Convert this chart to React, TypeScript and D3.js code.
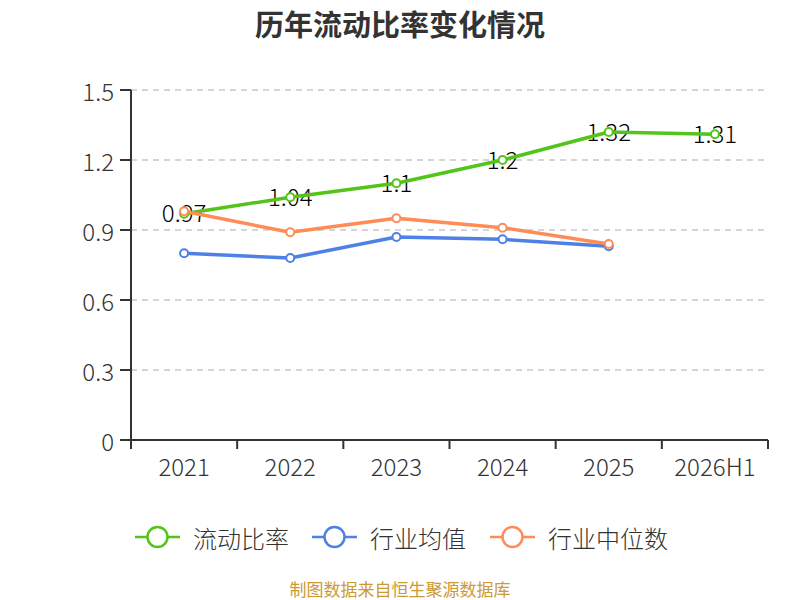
import { line, scaleBand, scaleLinear } from "d3";

const categories = ["2021", "2022", "2023", "2024", "2025", "2026H1"];
const currentRatio = [0.97, 1.04, 1.1, 1.2, 1.32, 1.31];
const industryMean = [0.8, 0.78, 0.87, 0.86, 0.83];
const industryMedian = [0.98, 0.89, 0.95, 0.91, 0.84];
const yTicks = [0, 0.3, 0.6, 0.9, 1.2, 1.5];
const seriesNames = ["流动比率", "行业均值", "行业中位数"];
const seriesColors = ["#52c41a", "#4e80e6", "#ff8c57"];

const font = "'Noto Sans CJK SC', 'Noto Sans', sans-serif";

export default function App() {
  const width = 800;
  const height = 600;
  const left = 131;
  const right = 768;
  const top = 90;
  const bottom = 440;

  const x = scaleBand<string>().domain(categories).range([left, right]);
  const y = scaleLinear().domain([0, 1.5]).range([bottom, top]);
  const cx = (c: string) => (x(c) ?? 0) + x.bandwidth() / 2;

  const series = [currentRatio, industryMean, industryMedian];
  const path = (vals: number[]) =>
    line<number>()
      .x((_, i) => cx(categories[i]))
      .y((v) => y(v))(vals) ?? "";

  const legendX = [135, 312, 490];

  return (
    <div style={{ position: "fixed", left: 0, top: 0 }}>
      <svg width={width} height={height} style={{ display: "block", background: "#fff", fontFamily: font }}>
        <text x={400} y={23} textAnchor="middle" dominantBaseline="central" fontSize={29} fontWeight="bold" fill="#333">
          历年流动比率变化情况
        </text>

        {yTicks.map((t) => (
          <g key={t}>
            {t > 0 && (
              <line x1={left} x2={right} y1={y(t)} y2={y(t)} stroke="#c8c8c8" strokeWidth={1.5} strokeDasharray="6,5" />
            )}
            <line x1={left - 11} x2={left} y1={y(t)} y2={y(t)} stroke="#333" strokeWidth={2} />
            <text x={left - 17} y={y(t)} textAnchor="end" dominantBaseline="central" fontSize={24} fontWeight={300} fill="#333">
              {t}
            </text>
          </g>
        ))}

        <line x1={left} x2={left} y1={top} y2={bottom + 9} stroke="#333" strokeWidth={2} />
        <line x1={left - 11} x2={right} y1={bottom} y2={bottom} stroke="#333" strokeWidth={2} />
        {[...categories.map((c) => x(c) ?? 0), right].map((bx, i) => (
          <line key={i} x1={bx} x2={bx} y1={bottom} y2={bottom + 9} stroke="#333" strokeWidth={2} />
        ))}
        {categories.map((c) => (
          <text key={c} x={cx(c)} y={465} textAnchor="middle" dominantBaseline="central" fontSize={24} fontWeight={300} fill="#333">
            {c}
          </text>
        ))}

        {currentRatio.map((v, i) => (
          <text
            key={i}
            x={cx(categories[i])}
            y={y(v) - 2}
            textAnchor="middle"
            dominantBaseline="central"
            fontSize={24}
            fontWeight={300}
            fill="#000"
          >
            {v}
          </text>
        ))}

        {series.map((vals, s) => (
          <g key={s}>
            <path d={path(vals)} fill="none" stroke={seriesColors[s]} strokeWidth={3.5} strokeLinejoin="round" />
            {vals.map((v, i) => (
              <circle key={i} cx={cx(categories[i])} cy={y(v)} r={4} fill="#fff" stroke={seriesColors[s]} strokeWidth={2} />
            ))}
          </g>
        ))}

        {seriesNames.map((name, s) => (
          <g key={name} transform={`translate(${legendX[s]},537)`}>
            <line x1={0} x2={45} y1={0} y2={0} stroke={seriesColors[s]} strokeWidth={2.5} />
            <circle cx={22.5} cy={0} r={10} fill="#fff" stroke={seriesColors[s]} strokeWidth={2.5} />
            <text x={58} y={0} dominantBaseline="central" fontSize={24} fontWeight={300} fill="#333">
              {name}
            </text>
          </g>
        ))}

        <text x={400} y={588} textAnchor="middle" dominantBaseline="central" fontSize={17} fill="#cc9933">
          制图数据来自恒生聚源数据库
        </text>
      </svg>
    </div>
  );
}
